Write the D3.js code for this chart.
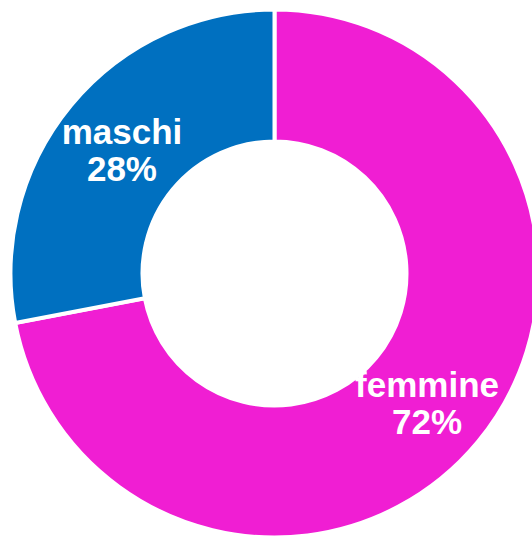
<!DOCTYPE html>
<html>
<head>
<meta charset="utf-8">
<script src="https://cdn.jsdelivr.net/npm/d3@7"></script>
<style>
  html, body { margin: 0; padding: 0; background: #ffffff; }
  svg { display: block; }
</style>
</head>
<body>
<svg id="chart" width="532" height="537"></svg>
<script>
// Gender split, in percent
const categories = ["femmine", "maschi"];
const shares = [72, 28];
const colors = ["#F01ED3", "#0070C0"];

const width = 532, height = 537;
const cx = 274.5, cy = 273.5;
const sepWidth = 4;
const outerR = 262 + sepWidth / 2;
const innerR = 134 - sepWidth / 2;

const svg = d3.select("#chart");
const g = svg.append("g").attr("transform", `translate(${cx},${cy})`);

const data = categories.map((c, i) => ({ name: c, value: shares[i], color: colors[i] }));

const pie = d3.pie().sort(null).value(d => d.value);
const arc = d3.arc().innerRadius(innerR).outerRadius(outerR);

const arcs = pie(data);

g.selectAll("path.slice")
  .data(arcs)
  .join("path")
  .attr("class", "slice")
  .attr("d", arc)
  .attr("fill", d => d.data.color)
  .attr("stroke", "#ffffff")
  .attr("stroke-width", sepWidth)
  .attr("stroke-linejoin", "miter");

const labelArc = d3.arc().innerRadius(198).outerRadius(198);

const labels = g.selectAll("text.label")
  .data(arcs)
  .join("text")
  .attr("class", "label")
  .attr("text-anchor", "middle")
  .attr("fill", "#ffffff")
  .attr("font-family", "'Liberation Sans', Arial, sans-serif")
  .attr("font-weight", "bold")
  .attr("font-size", "35px");

labels.each(function(d) {
  const [x, y] = labelArc.centroid(d);
  const t = d3.select(this);
  t.append("tspan").attr("x", x).attr("y", y - 3).text(d.data.name);
  t.append("tspan").attr("x", x).attr("y", y + 34).text(d.data.value + "%");
});
</script>
</body>
</html>
